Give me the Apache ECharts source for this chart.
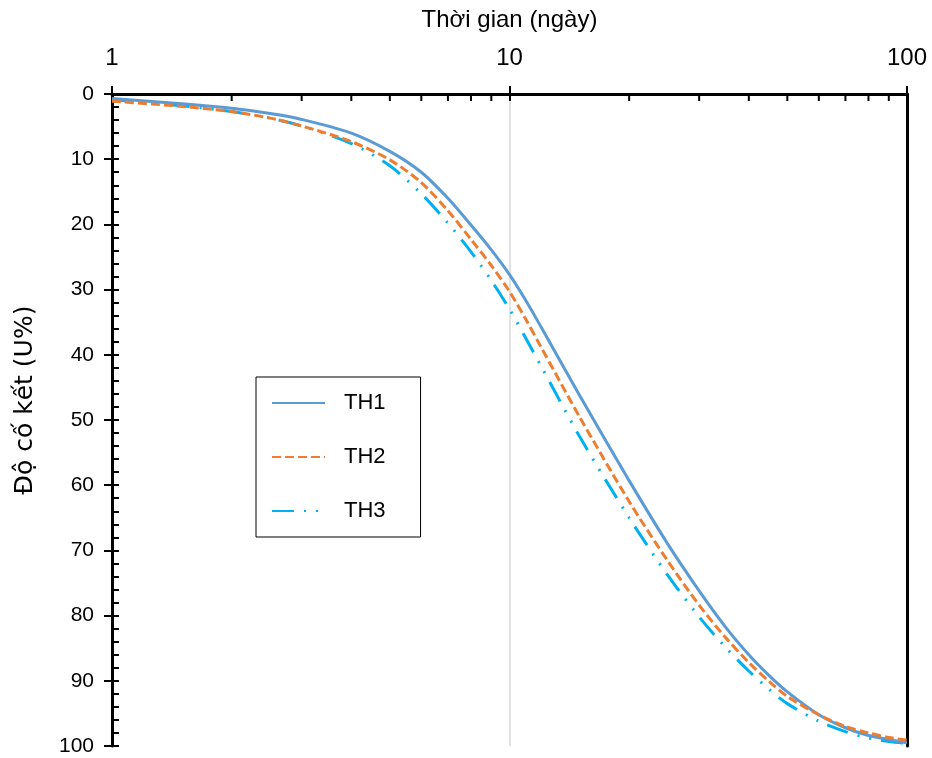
<!DOCTYPE html>
<html>
<head>
<meta charset="utf-8">
<script src="https://cdn.jsdelivr.net/npm/echarts@6/dist/echarts.min.js"></script>
<style>html,body{margin:0;padding:0;background:#fff;}#c{width:932px;height:758px;}</style>
</head>
<body>
<div id="c"></div>
<script>
// Time (days) sample points
const days = [1, 1.5, 2, 2.5, 3, 4, 5, 6, 7, 8, 9, 10, 11, 12, 15, 20, 25, 30, 35, 40, 45, 50, 60, 70, 80, 90, 100];
// Degree of consolidation U% per case
const th1 = [0.7, 1.5, 2.2, 3.0, 3.9, 6.0, 8.8, 12.0, 16.0, 20.1, 23.9, 27.7, 31.7, 35.7, 46.2, 59.3, 69.0, 76.2, 81.8, 86.0, 89.2, 91.7, 95.2, 97.2, 98.4, 99.0, 99.5];
const th2 = [1.1, 1.9, 2.7, 3.7, 4.9, 7.3, 10.1, 13.6, 17.9, 22.3, 26.3, 30.3, 34.6, 38.8, 49.5, 62.5, 71.6, 78.4, 83.4, 87.2, 90.1, 92.4, 95.2, 97.0, 98.0, 98.7, 99.1];
const th3 = [0.9, 1.8, 2.7, 3.7, 4.9, 7.6, 11.0, 15.3, 19.8, 24.2, 28.6, 33.0, 37.5, 41.7, 52.5, 65.0, 73.8, 80.2, 84.9, 88.5, 91.3, 93.5, 96.2, 97.8, 98.8, 99.3, 99.6];
const seriesNames = ['TH1', 'TH2', 'TH3'];
// Axis ticks
const xMin = 1, xMax = 100;
const yMin = 0, yMax = 100, yInterval = 10;
const xMinorTicks = [2, 3, 4, 5, 6, 7, 8, 9, 20, 30, 40, 50, 60, 70, 80, 90];
const xTitle = 'Thời gian (ngày)';
const yTitle = 'Độ cố kết (U%)';

const font = "'Liberation Sans', Arial, sans-serif";
const pair = (arr) => days.map((d, i) => [d, arr[i]]);

const chart = echarts.init(document.getElementById('c'), null, {renderer: 'canvas'});
const baseX = {type: 'log', logBase: 10, min: xMin, max: xMax};
const baseY = {type: 'value', inverse: true, min: yMin, max: yMax, interval: yInterval};
chart.setOption({
  animation: false,
  backgroundColor: '#fff',
  grid: {left: 112, right: 25, top: 94, bottom: 12, containLabel: false},
  legend: {
    data: seriesNames,
    orient: 'vertical',
    left: 256, top: 377,
    padding: [15, 35, 15, 15],
    itemWidth: 53, itemHeight: 22, itemGap: 32,
    borderColor: '#000', borderWidth: 1,
    itemStyle: {opacity: 0},
    textStyle: {fontFamily: font, fontSize: 22, color: '#000', padding: [0, 0, 0, 14]}
  },
  xAxis: [
    Object.assign({}, baseX, {
      position: 'top',
      name: xTitle, nameLocation: 'middle', nameGap: 62,
      nameTextStyle: {fontFamily: font, fontSize: 24, color: '#000'},
      axisLine: {show: true, lineStyle: {color: '#000', width: 3}},
      axisTick: {show: true, inside: false, length: 8, lineStyle: {color: '#000', width: 2}},
      axisLabel: {fontFamily: font, fontSize: 24, color: '#000', margin: 24},
      splitLine: {show: true, lineStyle: {color: '#d9d9d9', width: 1.5}}
    }),
    Object.assign({}, baseX, {
      position: 'top',
      axisLine: {show: false},
      axisTick: {show: true, inside: true, length: 7, lineStyle: {color: '#000', width: 2}},
      axisLabel: {show: false},
      splitLine: {show: false}
    }),
    Object.assign({}, baseX, {
      position: 'bottom',
      axisLine: {show: true, lineStyle: {color: '#000', width: 3}},
      axisTick: {show: false},
      axisLabel: {show: false},
      splitLine: {show: false}
    })
  ],
  yAxis: [
    Object.assign({}, baseY, {
      position: 'left',
      name: yTitle, nameLocation: 'middle', nameGap: 74, nameRotate: 90,
      nameTextStyle: {fontFamily: "'DejaVu Sans', sans-serif", fontSize: 25, color: '#000', padding: [0, 0, 0, 40]},
      axisLine: {show: true, lineStyle: {color: '#000', width: 3}},
      axisTick: {show: true, inside: false, length: 8, lineStyle: {color: '#000', width: 2}},
      axisLabel: {fontFamily: font, fontSize: 21, color: '#000', margin: 18},
      splitLine: {show: false}
    }),
    Object.assign({}, baseY, {
      position: 'left',
      axisLine: {show: false},
      axisTick: {show: true, inside: true, length: 7, lineStyle: {color: '#000', width: 2}},
      minorTick: {show: true, splitNumber: 5, length: 7, lineStyle: {color: '#000', width: 2}},
      axisLabel: {show: false},
      splitLine: {show: false}
    }),
    Object.assign({}, baseY, {
      position: 'right',
      axisLine: {show: true, lineStyle: {color: '#000', width: 3}},
      axisTick: {show: false},
      axisLabel: {show: false},
      splitLine: {show: false}
    })
  ],
  series: [
    {
      name: 'TH1', type: 'line', xAxisIndex: 0, yAxisIndex: 0, smooth: 0.3, symbol: 'none',
      data: pair(th1), color: '#5B9BD5',
      lineStyle: {color: '#5B9BD5', width: 3, type: 'solid'}, z: 3
    },
    {
      name: 'TH2', type: 'line', xAxisIndex: 0, yAxisIndex: 0, smooth: 0.3, symbol: 'none',
      data: pair(th2), color: '#ED7D31',
      lineStyle: {color: '#ED7D31', width: 3, type: [9, 4]}, z: 4
    },
    {
      name: 'TH3', type: 'line', xAxisIndex: 0, yAxisIndex: 0, smooth: 0.3, symbol: 'none',
      data: pair(th3), color: '#00B0F0',
      lineStyle: {color: '#00B0F0', width: 3, type: [22, 10, 2, 10, 2, 10]}, z: 2
    },
    {
      type: 'custom', xAxisIndex: 0, yAxisIndex: 0, silent: true, z: 10,
      data: xMinorTicks.map(v => [v, yMin]),
      clip: false,
      renderItem: function (params, api) {
        const p = api.coord([api.value(0), api.value(1)]);
        return {
          type: 'line',
          shape: {x1: p[0], y1: p[1], x2: p[0], y2: p[1] + 7},
          style: {stroke: '#000', lineWidth: 2}
        };
      }
    }
  ]
});
</script>
</body>
</html>
